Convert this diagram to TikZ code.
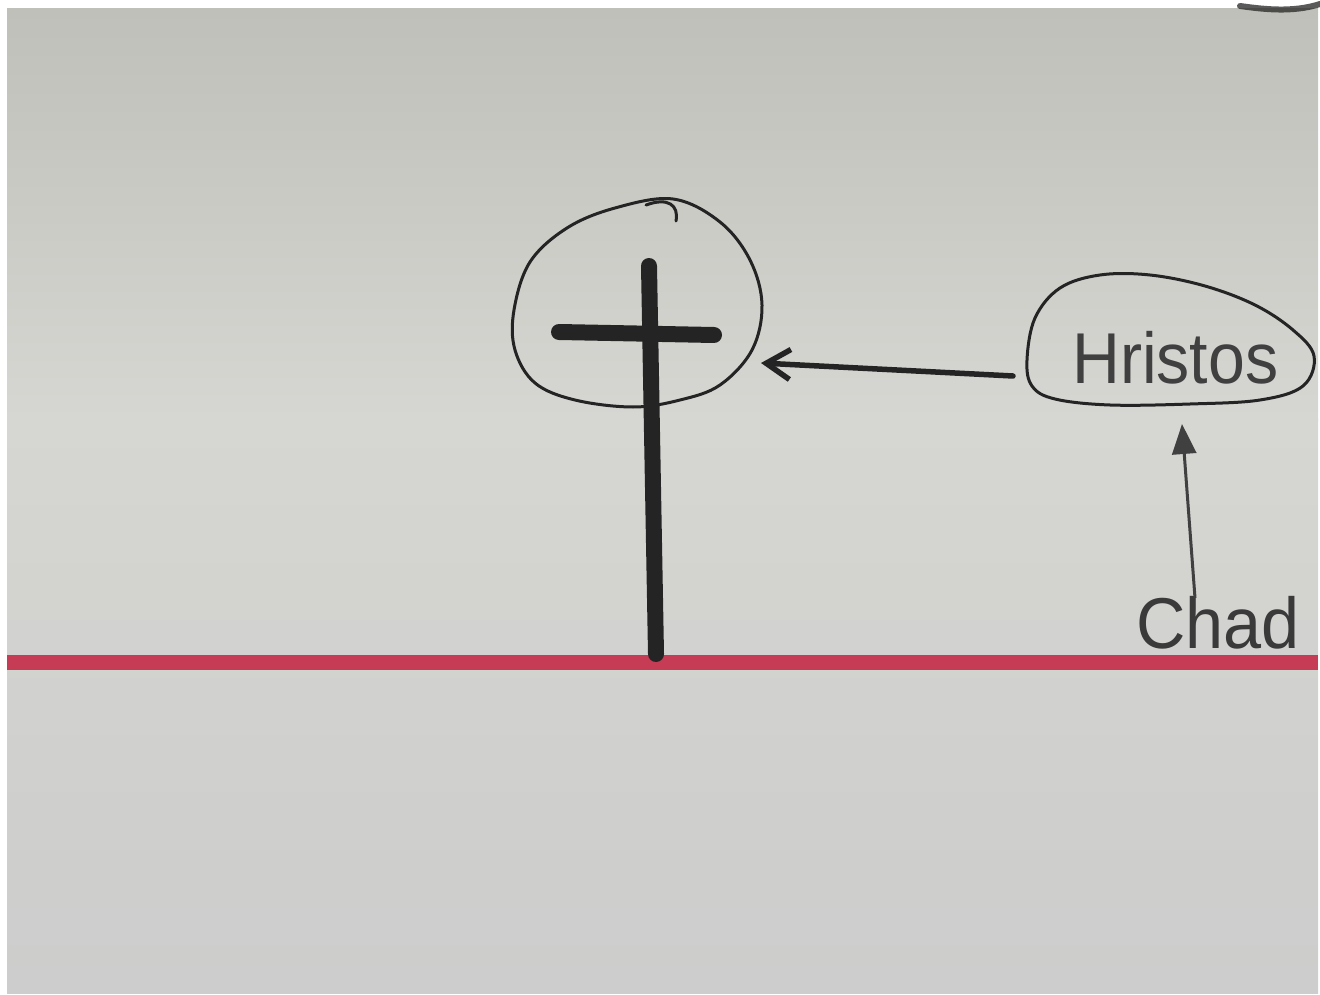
\documentclass[tikz,border=0pt]{standalone}
\usepackage{fontspec}
\setmainfont{Liberation Sans}
\usetikzlibrary{arrows.meta}
\definecolor{paperA}{RGB}{192,192,186}
\definecolor{paperB}{RGB}{214,214,210}
\definecolor{paperC}{RGB}{204,205,204}
\definecolor{ink}{RGB}{36,36,36}
\definecolor{pencil}{RGB}{64,64,64}
\definecolor{redline}{RGB}{198,60,84}
\tikzset{
  pen/.style={draw=ink, line width=3pt, line join=round, line cap=round},
  marker/.style={draw=ink, line width=16pt, line cap=round},
  label/.style={font=\fontsize{72}{80}\selectfont, text=pencil, inner sep=0pt},
}
\begin{document}
\begin{tikzpicture}[x=1pt,y=-1pt]
\useasboundingbox (0,0) rectangle (1320,995);
\fill[white] (0,0) rectangle (1320,995);
\shade[top color=paperA, bottom color=paperB] (7,9) rectangle (1318,420);
\shade[top color=paperB, bottom color=paperC] (7,419) rectangle (1318,993);
% stray mark top right
\draw[ink, line width=6pt, line cap=round, opacity=0.75] (1240,6) .. controls (1262,9) and (1292,13) .. (1320,4);
% red ground line
\draw[redline, line width=15pt] (7,662) -- (1318,662);
% cross
\draw[marker] (649,266) -- (656,654);
\draw[marker] (559,332) -- (714,335);
% halo around cross
\draw[pen] plot[smooth cycle, tension=0.6] coordinates {(673,199) (720,222) (750,260) (762,305) (752,350) (720,385) (680,400) (633,407) (575,400) (535,383) (515,350) (514,310) (530,262) (567,228) (615,208)};
\draw[pen] (646,205) .. controls (668,197) and (679,205) .. (676,221);
\coordinate (halo) at (761,363);
% Hristos blob
\node[label, anchor=base west] (hristos) at (1072,383) {\scalebox{0.92}[1]{Hristos}};
\draw[pen] plot[smooth cycle, tension=0.6] coordinates {(1035,318) (1060,288) (1100,275) (1150,275) (1205,286) (1255,305) (1293,330) (1314,356) (1303,386) (1260,400) (1190,404) (1110,405) (1055,399) (1032,386) (1027,360)};
\coordinate (blobW) at (1013,376);
\coordinate (blobS) at (1182,424);
% Chad
\node[label, anchor=base west, text=ink!90] (chad) at (1136,648) {\scalebox{0.95}[1]{Chad}};
\coordinate (chadTop) at (1195,598);
% arrows
\draw[ink, line width=5.5pt, line cap=round, -{Straight Barb[length=24pt,width=30pt,line width=5.5pt]}] (blobW) -- (halo);
\draw[pencil, line width=3pt, -{Triangle[length=30pt,width=24pt]}] (chadTop) -- (blobS);
\end{tikzpicture}
\end{document}
